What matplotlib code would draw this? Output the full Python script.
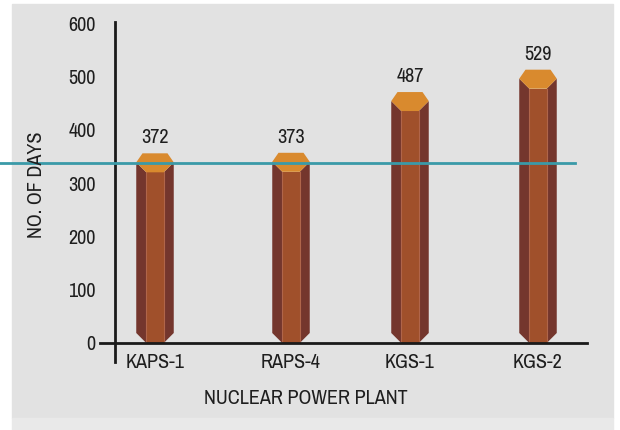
import matplotlib
matplotlib.use("Agg")
import matplotlib.pyplot as plt
from matplotlib.patches import Polygon, Rectangle
from matplotlib.transforms import blended_transform_factory

plt.rcParams['font.family'] = ['Archivo Narrow', 'DejaVu Sans']

plants = ['KAPS-1', 'RAPS-4', 'KGS-1', 'KGS-2']
days = [372, 373, 487, 529]
ref_line = 338
yticks = [0, 100, 200, 300, 400, 500, 600]

# layout (x in axis units, ~1 px each)
x_pos = [40, 176, 295, 423]
fs = 14.5

fig = plt.figure(figsize=(6.2, 4.3), dpi=100, facecolor='white')
fig.patches.append(Rectangle((12 / 620, 1 - 418 / 430), 601 / 620, 414 / 430,
                             transform=fig.transFigure, color='#e2e2e2', zorder=-2))
fig.patches.append(Rectangle((12 / 620, 0), 601 / 620, 12 / 430,
                             transform=fig.transFigure, color='#e9e9e9', zorder=-2))

ax = fig.add_axes([115 / 620, 1 - 343 / 430, 485 / 620, 333 / 430])
ax.set_facecolor('none')
ax.set_xlim(0, 485)
ax.set_ylim(0, 625)
for s in ax.spines.values():
    s.set_visible(False)

# px -> data
py = 625 / 333.0
hw, fw = 18.75, 8.75        # half width, half front width
hex_h, hex_mid = 19 * py, 9 * py
cham = 10 * py
top_off = 16

for x, v in zip(x_pos, days):
    top = v - top_off
    base = top - hex_mid
    ax.add_patch(Polygon([(x - hw, base), (x - fw, top - hex_h), (x - fw, 0),
                          (x - hw, cham)], closed=True, color='#74362d', lw=0, zorder=2))
    ax.add_patch(Polygon([(x + hw, base), (x + fw, top - hex_h), (x + fw, 0),
                          (x + hw, cham)], closed=True, color='#74362d', lw=0, zorder=2))
    ax.add_patch(Rectangle((x - fw, 0), 2 * fw, top - hex_h, color='#a0502b', lw=0, zorder=2))
    ax.plot([x - fw, x - fw], [0, top - hex_h], color='#b0654a', lw=0.8, zorder=3)
    ax.plot([x + fw, x + fw], [0, top - hex_h], color='#b0654a', lw=0.8, zorder=3)
    ax.add_patch(Polygon([(x - 12.5, top), (x + 12.5, top), (x + hw, base),
                          (x + fw, top - hex_h), (x - fw, top - hex_h), (x - hw, base)],
                         closed=True, color='#d98a2e', lw=0, zorder=3))
    ax.text(x, top + 29, str(v), ha='center', va='center', fontsize=fs,
            color='#1e1e1e', zorder=4)

# axes lines
ax.plot([0, 0], [-19 * py, 603], color='#1a1a1a', lw=2, clip_on=False, zorder=5)
ax.plot([-15, 472], [0, 0], color='#1a1a1a', lw=2, clip_on=False, zorder=5)

# reference line across the panel
tr = blended_transform_factory(fig.transFigure, ax.transData)
ax.plot([0, 575 / 620], [ref_line, ref_line], color='#3a9aa8', lw=2,
        transform=tr, clip_on=False, zorder=6)

ax.set_yticks(yticks)
ax.set_yticklabels([str(t) for t in yticks])
ax.tick_params(axis='y', length=0, pad=14, labelsize=fs, labelcolor='#1e1e1e')
ax.set_xticks(x_pos)
ax.set_xticklabels(plants)
ax.tick_params(axis='x', length=0, pad=7, labelsize=fs, labelcolor='#1e1e1e')

fig.text(36 / 620, 1 - 185 / 430, 'NO. OF DAYS', rotation=90, ha='center', va='center',
         fontsize=fs, color='#1e1e1e')
fig.text(306 / 620, 1 - 398 / 430, 'NUCLEAR POWER PLANT', ha='center', va='center',
         fontsize=fs, color='#1e1e1e')

fig.savefig('out.png', dpi=100, facecolor=fig.get_facecolor())
